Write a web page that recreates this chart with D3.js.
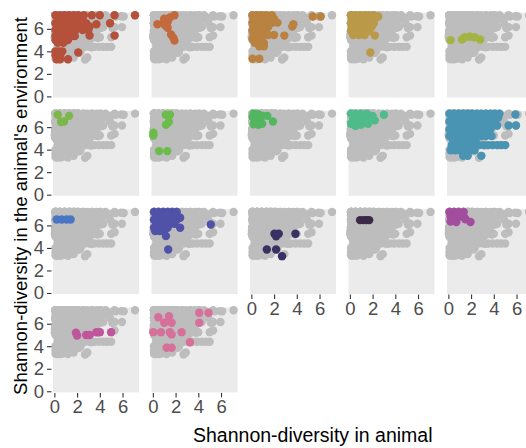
<!DOCTYPE html>
<html><head><meta charset="utf-8">
<script src="https://cdn.jsdelivr.net/npm/d3@7"></script>
<style>body{margin:0;background:#fff}svg{display:block}</style>
</head><body>
<svg id="c" width="526" height="448"></svg>
<script>
// ---- data: [x = Shannon diversity in animal, y = Shannon diversity in environment]
const pts01 = [[0.1,7.2],[0.5,7.2],[0.9,7.2],[1.3,7.2],[1.7,7.2],[2.1,7.2],[2.6,7.2],[3.3,7.2],[4.0,7.2],[5.3,7.2],[7.1,7.2],
 [0.3,6.85],[0.7,6.85],[1.1,6.85],[1.5,6.85],[1.9,6.85],[2.4,6.85],
 [0.1,6.5],[0.5,6.5],[0.9,6.5],[1.3,6.5],[1.8,6.5],[2.3,6.5],[2.8,6.5],[3.7,6.4],[4.9,6.5],
 [0.3,6.2],[0.7,6.2],[1.1,6.2],[1.6,6.2],[2.0,6.2],[2.6,6.2],[3.1,6.2],
 [0.1,5.9],[0.5,5.9],[1.0,5.9],[1.4,5.9],[1.9,5.9],[2.5,5.9],[3.0,5.9],
 [0.3,5.6],[0.7,5.6],[1.1,5.6],[1.6,5.6],
 [0.1,5.35],[0.5,5.35],[1.0,5.35],[1.5,5.35],[1.8,5.35],[3.1,5.4],[5.3,5.4],
 [0.1,5.0],[0.5,5.0],[0.9,5.0],[1.2,5.0],[0.3,4.75],[0.8,4.75],
 [0.1,4.0],[0.4,4.0],[0.7,4.0],[2.1,3.9],[0.1,3.65],[0.5,3.65],[0.2,3.3],[0.5,3.3],[1.2,3.3]];
const pts02 = [[0.4,6.4],[0.9,6.5],[1.1,6.3],[1.0,6.9],[1.3,6.6],[1.5,7.0],[1.9,7.2],[1.3,6.1],[1.6,5.5],[1.8,5.2],[1.9,4.95]];
const pts03 = [[0.1,7.2],[0.5,7.2],[0.9,7.2],[1.3,7.2],[1.8,7.2],[0.2,6.9],[0.6,6.9],[1.0,6.9],[1.5,6.9],[2.0,6.9],
 [0.1,6.55],[0.5,6.55],[0.9,6.55],[1.4,6.55],[1.9,6.55],[2.3,6.55],[0.2,6.2],[0.6,6.2],[1.0,6.2],[1.5,6.2],[3.6,6.2],[3.7,6.4],
 [0.1,5.85],[0.5,5.85],[0.9,5.85],[1.3,5.85],[0.2,5.45],[0.6,5.45],[1.0,5.45],[1.5,5.45],[2.0,5.45],[2.9,5.4],
 [0.1,5.1],[0.5,5.1],[0.9,5.1],[0.3,4.75],[0.7,4.75],[1.1,4.75],[0.7,4.45],[1.1,4.45],[0.1,3.34],[0.7,3.34],[5.4,7.1],[6.1,7.1]];
const pts04 = [[0.1,7.2],[0.5,7.2],[0.9,7.2],[1.3,7.2],[1.7,7.2],[2.1,7.2],[2.5,7.1],[0.2,6.85],[0.6,6.85],[1.0,6.85],[1.4,6.85],[1.8,6.85],[2.2,6.85],
 [0.1,6.5],[0.5,6.5],[0.9,6.5],[1.3,6.5],[1.7,6.5],[2.1,6.5],[0.2,6.15],[0.6,6.15],[1.0,6.15],[1.4,6.15],[1.9,6.15],
 [0.1,5.8],[0.5,5.8],[0.9,5.8],[1.3,5.8],[1.7,5.8],[0.3,5.45],[0.8,5.45],[1.3,5.45],[2.2,5.4],[1.8,3.9]];
const pts05 = [[0.2,5.0],[1.2,5.05],[1.45,5.25],[1.9,5.3],[2.3,5.25],[2.8,5.05]];
const pts06 = [[0.3,7.1],[1.3,7.0],[0.6,6.45],[0.85,6.5]];
const pts07 = [[1.13,7.1],[1.5,7.1],[1.15,6.2],[1.4,6.45],[0.05,5.5],[0.05,5.25],[0.55,3.87],[1.27,3.87]];
const pts08 = [[0.2,7.2],[0.6,7.15],[1.0,7.0],[0.3,6.75],[0.7,6.7],[0.2,6.25],[0.6,6.2],[0.95,6.3],[1.4,7.0],[1.9,6.5],[0.1,6.9]];
const pts09 = [[0.1,7.2],[0.5,7.2],[1.0,7.2],[1.5,7.2],[2.0,7.0],[3.0,7.1],[0.3,6.75],[0.8,6.65],[1.3,6.65],[1.8,6.6],[2.2,6.6],[0.5,6.1],[1.0,6.2],[1.6,6.3],[0.1,6.3]];
const pts10 = [[0.1,7.2],[0.5,7.2],[0.9,7.2],[1.3,7.2],[1.7,7.2],[2.1,7.2],[2.5,7.2],[2.9,7.2],[3.3,7.2],[3.7,7.2],[4.1,7.2],[4.5,7.2],[5.9,7.12],
 [0.3,6.85],[0.7,6.85],[1.1,6.85],[1.5,6.85],[1.9,6.85],[2.3,6.85],[2.7,6.85],[3.1,6.85],[3.5,6.85],[3.9,6.85],[4.4,6.85],
 [0.1,6.5],[0.5,6.5],[0.9,6.5],[1.3,6.5],[1.7,6.5],[2.1,6.5],[2.5,6.5],[2.9,6.5],[3.3,6.5],[3.7,6.5],[4.1,6.5],
 [0.3,6.15],[0.7,6.15],[1.1,6.15],[1.5,6.15],[1.9,6.15],[2.3,6.15],[2.7,6.15],[3.1,6.15],[3.5,6.15],[3.9,6.15],[4.3,6.15],[5.3,6.15],[5.95,6.15],
 [0.1,5.8],[0.5,5.8],[0.9,5.8],[1.3,5.8],[1.7,5.8],[2.1,5.8],[2.5,5.8],[2.9,5.8],[3.3,5.8],[3.7,5.8],
 [0.3,5.5],[0.7,5.5],[1.1,5.5],[1.5,5.5],[1.9,5.5],[2.3,5.5],[2.7,5.5],[3.1,5.5],
 [0.1,5.2],[0.5,5.2],[0.9,5.2],[1.3,5.2],[1.7,5.2],[2.1,5.2],[2.5,5.2],[2.9,5.2],[3.3,5.2],[3.8,5.2],
 [0.4,4.85],[0.8,4.85],[1.2,4.85],[1.6,4.85],[2.0,4.85],[2.4,4.85],
 [0.3,4.4],[0.7,4.4],[1.1,4.4],[1.5,4.4],[1.9,4.4],[2.3,4.4],[2.7,4.4],[3.1,4.4],[3.5,4.4],[3.9,4.4],[4.3,4.4],[4.65,4.4],[5.0,4.4],
 [0.2,3.95],[0.6,3.95],[1.0,3.95],[1.4,3.95],[1.9,3.95],[2.3,3.95],[1.3,3.45],[1.7,3.45],[2.9,3.45]];
const pts11 = [[0.2,6.53],[0.64,6.53],[1.08,6.53],[1.43,6.53]];
const pts12 = [[0.1,7.2],[0.5,7.2],[0.9,7.2],[1.3,7.2],[1.7,7.2],[2.1,7.2],[0.3,6.85],[0.7,6.85],[1.1,6.85],[1.5,6.85],[1.9,6.85],
 [0.1,6.5],[0.5,6.5],[0.9,6.5],[1.3,6.5],[1.7,6.5],[2.1,6.5],[0.3,6.15],[0.7,6.15],[1.1,6.15],[1.5,6.15],[1.9,6.15],
 [0.1,5.8],[0.5,5.8],[0.9,5.8],[1.3,5.8],[2.4,5.8],[0.2,5.5],[0.6,5.5],[1.0,5.5],[1.15,5.05],[1.35,3.86],[5.1,6.08],[2.4,6.68]];
const pts13 = [[2.03,5.26],[2.41,5.26],[2.18,5.04],[3.88,5.26],[1.36,3.86],[2.18,3.86],[2.7,3.27]];
const pts14 = [[0.9,6.47],[1.2,6.47],[1.45,6.47],[1.7,6.47]];
const pts15 = [[0.1,7.2],[0.5,7.2],[0.9,7.2],[1.35,7.2],[0.2,6.8],[0.6,6.75],[1.0,6.8],[1.4,6.7],[0.2,6.35],[0.7,6.3],[1.5,6.55],[1.95,6.3]];
const pts16 = [[1.9,5.2],[2.0,4.95],[2.8,5.0],[3.1,5.0],[3.7,5.25],[4.0,5.25],[5.0,5.25]];
const pts17 = [[0.48,6.58],[1.42,6.67],[1.0,6.08],[1.65,6.08],[0.04,5.25],[0.71,5.25],[1.5,5.25],[1.65,5.05],[2.53,5.25],[4.08,6.97],[4.9,6.97],[4.08,6.08],[3.26,4.36],[1.21,3.86],[1.65,3.86]];

const groupPoints = [pts01,pts02,pts03,pts04,pts05,pts06,pts07,pts08,pts09,pts10,pts11,pts12,pts13,pts14,pts15,pts16,pts17];
const groupColors = ["#b5513b","#c26a3d","#b98240","#ba9a48","#a4b443","#7cb74a","#6cbc4b","#52b660","#4fbb8b","#4a94b3",
  "#4a75c2","#5052a8","#3a3163","#3b2a47","#a24d9e","#c0559c","#d6709a"];
const xTicks = [0,2,4,6];
const yTicks = [0,2,4,6];
const xTitle = "Shannon-diversity in animal";
const yTitle = "Shannon-diversity in the animal's environment";

// ---- layout
const nCol = 5, panelW = 86, panelH = 85, stepX = 98.5, stepY = 98.3, left0 = 53, top0 = 12.5;
const svg = d3.select("#c");
const font = "'Liberation Sans', Arial, Helvetica, sans-serif";
const x = d3.scaleLinear().domain([-0.12, 7.45]).range([0, panelW]);
const y = d3.scaleLinear().domain([-0.1, 7.45]).range([panelH, 0]);
const allPts = groupPoints.flat();
const nGroups = groupPoints.length;

groupPoints.forEach((pts, i) => {
  const r = Math.floor(i / nCol), c = i % nCol;
  const g = svg.append("g").attr("transform", `translate(${left0 + c*stepX},${top0 + r*stepY})`);
  g.append("rect").attr("width", panelW).attr("height", panelH).attr("fill", "#ebebeb");
  const pg = g.append("g");
  pg.selectAll("circle.bg").data(allPts).join("circle").attr("class","bg")
    .attr("cx", d => x(d[0])).attr("cy", d => y(d[1])).attr("r", 4.2).attr("fill", "#bdbdbd");
  pg.selectAll("circle.fg").data(pts).join("circle").attr("class","fg")
    .attr("cx", d => x(d[0])).attr("cy", d => y(d[1])).attr("r", 4.2).attr("fill", groupColors[i]);

  if (c === 0) {
    const ax = g.append("g").attr("transform", "translate(-1.5,0)")
      .call(d3.axisLeft(y).tickValues(yTicks).tickSize(4.5).tickPadding(3));
    ax.select(".domain").remove();
    ax.selectAll("line").attr("stroke", "#333").attr("stroke-width", 1.1);
    ax.selectAll("text").attr("fill", "#4d4d4d").style("font-family", font).style("font-size", "18.5px");
  }
  if (i + nCol >= nGroups) {
    const ax = g.append("g").attr("transform", `translate(0,${panelH + 0.5})`)
      .call(d3.axisBottom(x).tickValues(xTicks).tickSize(4.5).tickPadding(2.5));
    ax.select(".domain").remove();
    ax.selectAll("line").attr("stroke", "#333").attr("stroke-width", 1.1);
    ax.selectAll("text").attr("fill", "#4d4d4d").style("font-family", font).style("font-size", "18.5px");
  }
});

svg.append("text").attr("x", 193).attr("y", 442).attr("text-anchor", "start")
  .style("font-family", font).style("font-size", "19.5px").attr("fill", "#000").text(xTitle);
svg.append("text").attr("transform", "translate(26.5,206) rotate(-90)").attr("text-anchor", "middle")
  .style("font-family", font).style("font-size", "18.5px").attr("fill", "#000").text(yTitle);
</script>
</body></html>
